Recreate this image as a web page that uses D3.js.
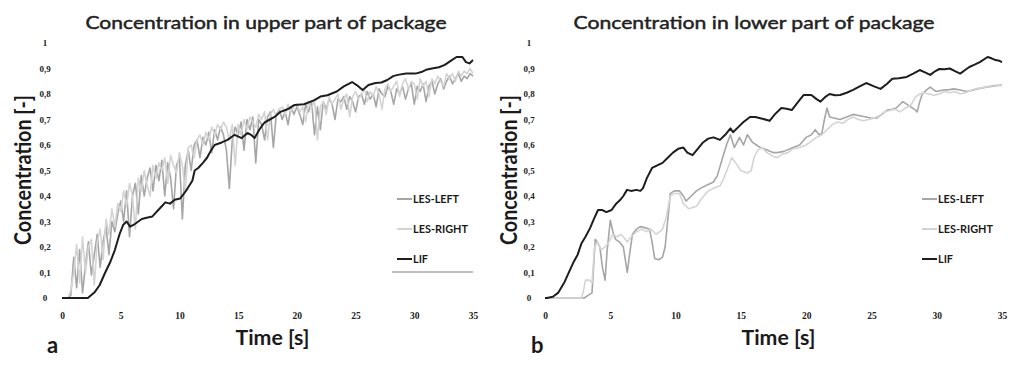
<!DOCTYPE html>
<html>
<head>
<meta charset="utf-8">
<script src="https://cdn.jsdelivr.net/npm/d3@7"></script>
<style>
  body { margin: 0; background: #fff; }
  svg { display: block; }
</style>
</head>
<body>
<svg id="chart" width="1012" height="367"></svg>
<script>
// ---- axis ticks ----
const timeTicks = [0, 5, 10, 15, 20, 25, 30, 35];
const concTicks = [0, 0.1, 0.2, 0.3, 0.4, 0.5, 0.6, 0.7, 0.8, 0.9, 1];

// ---- series ----
const seriesNames = ["LES-LEFT", "LES-RIGHT", "LIF"];
const seriesColors = ["#a6a6a6", "#d4d4d4", "#1e1e1e"];

// upper part, LES sampled every 0.25 s from 0 to 35 s
const upperSampleStep = 0.25;
const upperLesLeft = [
  0, 0, 0, 0.01, 0.16, 0.04, 0.19, 0.02, 0.13, 0.22, 0.09, 0.17, 0.25, 0.12, 0.22, 0.28, 0.17, 0.3, 0.26, 0.33,
  0.38, 0.3, 0.42, 0.24, 0.4, 0.45, 0.33, 0.48, 0.4, 0.47, 0.51, 0.42, 0.52, 0.46, 0.54, 0.4, 0.53, 0.47, 0.35, 0.52,
  0.55, 0.31, 0.52, 0.58, 0.5, 0.6, 0.62, 0.55, 0.63, 0.6, 0.65, 0.57, 0.66, 0.62, 0.67, 0.64, 0.58, 0.43, 0.62, 0.67,
  0.64, 0.69, 0.58, 0.7, 0.66, 0.71, 0.53, 0.7, 0.68, 0.62, 0.71, 0.73, 0.59, 0.72, 0.74, 0.7, 0.73, 0.68, 0.75, 0.72,
  0.75, 0.72, 0.68, 0.76, 0.73, 0.77, 0.64, 0.75, 0.66, 0.77, 0.74, 0.78, 0.76, 0.7, 0.78, 0.77, 0.79, 0.74, 0.79, 0.77,
  0.73, 0.79, 0.8, 0.76, 0.81, 0.78, 0.8, 0.75, 0.82, 0.8, 0.79, 0.83, 0.81, 0.76, 0.82, 0.8, 0.83, 0.78, 0.82, 0.84,
  0.76, 0.83, 0.81, 0.84, 0.77, 0.83, 0.85, 0.8, 0.84, 0.86, 0.82, 0.85, 0.87, 0.84, 0.86, 0.88, 0.85, 0.87, 0.86, 0.88,
  0.87
];
const upperLesRight = [
  0, 0, 0, 0.03, 0.1, 0.21, 0.06, 0.24, 0.1, 0.2, 0.23, 0.05, 0.22, 0.27, 0.15, 0.31, 0.25, 0.35, 0.28, 0.37,
  0.34, 0.42, 0.36, 0.45, 0.4, 0.27, 0.47, 0.42, 0.5, 0.44, 0.4, 0.52, 0.47, 0.53, 0.5, 0.55, 0.45, 0.56, 0.52, 0.49,
  0.57, 0.52, 0.42, 0.59, 0.6, 0.55, 0.62, 0.64, 0.6, 0.65, 0.62, 0.67, 0.64, 0.68, 0.66, 0.69, 0.67, 0.62, 0.68, 0.52,
  0.68, 0.64, 0.7, 0.66, 0.71, 0.69, 0.67, 0.72, 0.7, 0.73, 0.62, 0.72, 0.74, 0.71, 0.74, 0.75, 0.72, 0.76, 0.73, 0.75,
  0.76, 0.73, 0.75, 0.69, 0.77, 0.74, 0.78, 0.62, 0.75, 0.77, 0.72, 0.79, 0.76, 0.78, 0.8, 0.74, 0.78, 0.8, 0.71, 0.79,
  0.81, 0.78, 0.8, 0.82, 0.77, 0.81, 0.79, 0.83, 0.8, 0.74, 0.82, 0.84, 0.81, 0.83, 0.85, 0.79, 0.84, 0.86, 0.82, 0.85,
  0.84, 0.78, 0.86, 0.83, 0.85, 0.79, 0.86, 0.84, 0.87, 0.85, 0.83, 0.88, 0.86, 0.88, 0.85, 0.89, 0.87, 0.89, 0.88, 0.9,
  0.88
];
// [time s, concentration]
const upperLif = [
  [0, 0], [1, 0], [2.2, 0], [2.8, 0.024], [3.2, 0.05], [3.66, 0.098], [4.1, 0.14], [4.5, 0.188], [4.9, 0.25],
  [5.2, 0.286], [5.5, 0.3], [5.8, 0.28], [6.2, 0.29], [6.8, 0.31], [7.2, 0.315], [7.7, 0.32], [8.1, 0.34],
  [8.5, 0.36], [8.8, 0.375], [9.2, 0.37], [9.6, 0.385], [10.05, 0.39], [10.4, 0.41], [10.7, 0.43], [11.1, 0.46],
  [11.3, 0.5], [11.6, 0.51], [12.0, 0.53], [12.35, 0.55], [12.7, 0.58], [13.0, 0.6], [13.6, 0.61], [14.1, 0.62],
  [14.7, 0.64], [15.3, 0.627], [15.8, 0.647], [16.1, 0.64], [16.4, 0.627], [16.8, 0.66], [17.1, 0.68], [17.3, 0.69],
  [17.7, 0.7], [18.1, 0.71], [18.6, 0.73], [19.2, 0.74], [19.8, 0.757], [20.6, 0.76], [21.5, 0.776], [22.0, 0.79],
  [22.6, 0.795], [23.4, 0.81], [24.0, 0.83], [24.7, 0.847], [25.1, 0.835], [25.6, 0.816], [26.1, 0.835],
  [26.7, 0.843], [27.2, 0.845], [27.7, 0.855], [28.2, 0.87], [28.6, 0.875], [29.3, 0.88], [30.1, 0.88],
  [30.6, 0.886], [31.0, 0.895], [31.5, 0.9], [32.1, 0.905], [32.6, 0.914], [33.1, 0.93], [33.6, 0.945],
  [34.1, 0.945], [34.4, 0.925], [34.7, 0.92], [35, 0.933]
];

// lower part, [time s, concentration]
const lowerLesLeft = [
  [0, 0], [3.0, 0], [3.3, 0.01], [3.6, 0.02], [3.75, 0.15], [3.85, 0.23], [4.0, 0.22], [4.2, 0.2], [4.4, 0.12],
  [4.6, 0.07], [4.75, 0.18], [5.0, 0.305], [5.2, 0.26], [5.4, 0.23], [5.7, 0.22], [6.0, 0.2], [6.15, 0.15],
  [6.3, 0.1], [6.5, 0.18], [6.7, 0.25], [7.0, 0.27], [7.3, 0.28], [7.7, 0.275], [8.0, 0.27], [8.2, 0.22],
  [8.4, 0.155], [8.7, 0.15], [9.0, 0.16], [9.2, 0.2], [9.4, 0.305], [9.6, 0.41], [9.9, 0.42], [10.3, 0.42],
  [10.6, 0.4], [10.8, 0.38], [11.2, 0.4], [11.6, 0.42], [11.9, 0.43], [12.3, 0.44], [12.9, 0.455], [13.2, 0.48],
  [13.6, 0.55], [13.9, 0.6], [14.2, 0.64], [14.5, 0.59], [14.9, 0.63], [15.2, 0.6], [15.5, 0.64], [15.9, 0.61],
  [16.2, 0.6], [16.5, 0.59], [17.0, 0.58], [17.5, 0.57], [17.8, 0.57], [18.3, 0.575], [19.0, 0.59], [19.5, 0.6],
  [20.0, 0.63], [20.4, 0.64], [20.7, 0.66], [21.0, 0.64], [21.2, 0.645], [21.4, 0.7], [21.6, 0.745], [21.8, 0.71],
  [22.2, 0.705], [22.6, 0.7], [23.1, 0.71], [23.6, 0.72], [24.1, 0.715], [24.6, 0.71], [25.0, 0.705],
  [25.4, 0.705], [25.8, 0.72], [26.2, 0.737], [26.6, 0.74], [26.9, 0.745], [27.2, 0.76], [27.4, 0.77],
  [27.7, 0.76], [28.0, 0.75], [28.3, 0.74], [28.5, 0.73], [28.7, 0.77], [28.9, 0.8], [29.2, 0.815],
  [29.5, 0.827], [29.8, 0.815], [30.0, 0.81], [30.4, 0.815], [30.8, 0.816], [31.3, 0.82], [31.8, 0.816],
  [32.3, 0.81], [32.8, 0.816], [33.3, 0.822], [33.8, 0.827], [34.4, 0.832], [35, 0.835]
];
const lowerLesRight = [
  [0, 0], [2.8, 0], [2.95, 0.03], [3.1, 0.07], [3.4, 0.07], [3.6, 0.06], [3.8, 0.2], [4.0, 0.22], [4.3, 0.19],
  [4.6, 0.2], [4.9, 0.22], [5.2, 0.25], [5.5, 0.24], [5.8, 0.25], [6.0, 0.24], [6.3, 0.22], [6.6, 0.24],
  [7.0, 0.26], [7.4, 0.27], [7.8, 0.26], [8.1, 0.27], [8.5, 0.25], [8.8, 0.26], [9.0, 0.27], [9.3, 0.32],
  [9.6, 0.4], [9.9, 0.41], [10.3, 0.41], [10.6, 0.37], [11.0, 0.35], [11.3, 0.355], [11.6, 0.36], [12.0, 0.39],
  [12.5, 0.42], [12.9, 0.43], [13.4, 0.44], [13.7, 0.47], [14.0, 0.51], [14.3, 0.55], [14.6, 0.53], [15.0, 0.5],
  [15.5, 0.49], [15.8, 0.5], [16.0, 0.55], [16.3, 0.58], [16.6, 0.59], [17.0, 0.57], [17.5, 0.555], [17.8, 0.55],
  [18.2, 0.565], [18.6, 0.57], [19.0, 0.585], [19.5, 0.59], [20.0, 0.6], [20.4, 0.615], [20.8, 0.63],
  [21.2, 0.64], [21.6, 0.66], [22.0, 0.68], [22.4, 0.69], [22.8, 0.685], [23.2, 0.7], [23.6, 0.71], [24.0, 0.7],
  [24.4, 0.695], [24.8, 0.7], [25.2, 0.705], [25.6, 0.715], [26.0, 0.73], [26.4, 0.735], [26.8, 0.74],
  [27.2, 0.73], [27.6, 0.745], [28.0, 0.755], [28.4, 0.79], [28.7, 0.8], [29.0, 0.805], [29.4, 0.8],
  [29.8, 0.795], [30.2, 0.8], [30.6, 0.81], [31.0, 0.805], [31.4, 0.81], [31.8, 0.8], [32.2, 0.805],
  [32.6, 0.815], [33.0, 0.82], [33.5, 0.825], [34.0, 0.83], [34.5, 0.835], [35, 0.832]
];
const lowerLif = [
  [0, 0], [0.15, 0], [0.6, 0.005], [1, 0.02], [1.5, 0.063], [2.15, 0.137], [2.5, 0.17], [2.8, 0.215], [3.1, 0.24],
  [3.45, 0.274], [3.75, 0.31], [4.06, 0.345], [4.4, 0.345], [4.7, 0.337], [5.1, 0.345], [5.45, 0.37],
  [5.75, 0.384], [6.0, 0.4], [6.28, 0.424], [6.6, 0.42], [7.0, 0.424], [7.3, 0.42], [7.5, 0.43], [7.8, 0.47],
  [8.2, 0.51], [8.6, 0.52], [9.0, 0.53], [9.4, 0.55], [9.8, 0.57], [10.2, 0.585], [10.6, 0.59], [10.9, 0.57],
  [11.3, 0.56], [11.7, 0.585], [12.1, 0.61], [12.5, 0.625], [12.9, 0.63], [13.4, 0.62], [13.8, 0.64],
  [14.2, 0.665], [14.4, 0.65], [14.8, 0.67], [15.2, 0.69], [15.7, 0.71], [16.1, 0.71], [16.5, 0.705],
  [17.2, 0.695], [17.6, 0.72], [18.1, 0.745], [18.5, 0.742], [18.9, 0.737], [19.4, 0.77], [19.8, 0.796],
  [20.4, 0.796], [20.8, 0.78], [21.1, 0.77], [21.5, 0.79], [21.8, 0.8], [22.2, 0.795], [22.6, 0.796],
  [23.1, 0.805], [23.6, 0.816], [24.1, 0.83], [24.6, 0.843], [25.2, 0.83], [25.7, 0.82], [26.2, 0.84],
  [26.6, 0.86], [27.1, 0.862], [27.7, 0.867], [28.2, 0.88], [28.7, 0.894], [29.1, 0.885], [29.5, 0.875],
  [29.9, 0.89], [30.2, 0.898], [30.6, 0.897], [31.0, 0.9], [31.4, 0.89], [31.8, 0.88], [32.2, 0.895],
  [32.5, 0.906], [32.9, 0.915], [33.3, 0.925], [33.9, 0.945], [34.2, 0.94], [34.5, 0.933], [34.8, 0.93],
  [35, 0.925]
];

// ---- build ----
const svg = d3.select("#chart");
const sansFont = "Lato, 'Open Sans', sans-serif";
const tickFont = "'Liberation Serif', 'DejaVu Serif', serif";

const gridSeries = vals => vals.map((v, i) => [i * upperSampleStep, v]);

const panels = [
  {
    title: "Concentration in upper part of package", titleX: 266,
    x0: 62, x1: 473, tickLabelX: 45, yTitleX: 24, letter: "a", letterX: 47,
    legendX: 397, legendUnderline: true,
    series: [gridSeries(upperLesLeft), gridSeries(upperLesRight), upperLif]
  },
  {
    title: "Concentration in lower part of package", titleX: 754,
    x0: 545, x1: 1002, tickLabelX: 529, yTitleX: 510, letter: "b", letterX: 531,
    legendX: 922, legendUnderline: false,
    series: [lowerLesLeft, lowerLesRight, lowerLif]
  }
];

const fmtConc = d => d === 0 ? "0" : d === 1 ? "1" : d3.format(".1f")(d).replace(".", ",");

panels.forEach(p => {
  const x = d3.scaleLinear().domain([0, 35]).range([p.x0, p.x1]);
  const y = d3.scaleLinear().domain([0, 1]).range([298, 43]);
  const g = svg.append("g");

  // title (regular face, lightly stroked for a medium weight)
  g.append("text")
    .attr("x", p.titleX).attr("y", 29)
    .attr("text-anchor", "middle")
    .attr("font-family", sansFont).attr("font-size", 17)
    .attr("fill", "#222").attr("stroke", "#222").attr("stroke-width", 0.45)
    .attr("textLength", 361).attr("lengthAdjust", "spacingAndGlyphs")
    .text(p.title);

  // y axis (labels only)
  const yAxis = g.append("g")
    .attr("transform", `translate(${p.tickLabelX},0)`)
    .call(d3.axisLeft(y).tickValues(concTicks).tickSize(0).tickPadding(0).tickFormat(fmtConc));
  yAxis.select(".domain").remove();
  yAxis.selectAll("text")
    .attr("x", 0).attr("text-anchor", "middle")
    .attr("font-family", tickFont).attr("font-size", 9).attr("font-weight", "bold")
    .attr("fill", "#222");

  // x axis (labels only)
  const xAxis = g.append("g")
    .attr("transform", "translate(0,312)")
    .call(d3.axisBottom(x).tickValues(timeTicks).tickSize(0).tickPadding(0));
  xAxis.select(".domain").remove();
  xAxis.selectAll("text")
    .attr("font-family", tickFont).attr("font-size", 9.5).attr("font-weight", "bold")
    .attr("fill", "#222");

  // axis titles
  g.append("text")
    .attr("transform", `translate(${p.yTitleX + 7},170) rotate(-90)`)
    .attr("text-anchor", "middle")
    .attr("font-family", sansFont).attr("font-size", 22).attr("font-weight", "bold")
    .attr("fill", "#1a1a1a")
    .attr("textLength", 150).attr("lengthAdjust", "spacingAndGlyphs")
    .text("Concentration [-]");

  g.append("text")
    .attr("x", (p.x0 + p.x1) / 2 + 5).attr("y", 345)
    .attr("text-anchor", "middle")
    .attr("font-family", sansFont).attr("font-size", 21).attr("font-weight", "bold")
    .attr("fill", "#1a1a1a")
    .attr("textLength", 74).attr("lengthAdjust", "spacingAndGlyphs")
    .text("Time [s]");

  // panel letter
  g.append("text")
    .attr("x", p.letterX).attr("y", 353)
    .attr("font-family", sansFont).attr("font-size", 22).attr("font-weight", "bold")
    .attr("fill", "#1a1a1a")
    .text(p.letter);

  // lines
  const line = d3.line().x(d => x(d[0])).y(d => y(d[1]));
  p.series.forEach((data, i) => {
    g.append("path")
      .datum(data)
      .attr("d", line)
      .attr("fill", "none")
      .attr("stroke", seriesColors[i])
      .attr("stroke-width", i === 2 ? 2 : 1.6)
      .attr("stroke-linejoin", "round");
  });

  // legend
  const legendWidths = [46, 55, 15];
  seriesNames.forEach((name, i) => {
    const ly = 199 + i * 30;
    g.append("line")
      .attr("x1", p.legendX).attr("x2", p.legendX + 15)
      .attr("y1", ly).attr("y2", ly)
      .attr("stroke", seriesColors[i]).attr("stroke-width", 2);
    g.append("text")
      .attr("x", p.legendX + 16).attr("y", ly + 4)
      .attr("font-family", sansFont).attr("font-size", 11).attr("font-weight", "bold")
      .attr("fill", "#1a1a1a")
      .attr("textLength", legendWidths[i]).attr("lengthAdjust", "spacingAndGlyphs")
      .text(name);
  });
  if (p.legendUnderline) {
    g.append("line")
      .attr("x1", p.legendX - 5).attr("x2", p.x1)
      .attr("y1", 272).attr("y2", 272)
      .attr("stroke", "#a8a8a8").attr("stroke-width", 1.5);
  }
});
</script>
</body>
</html>
